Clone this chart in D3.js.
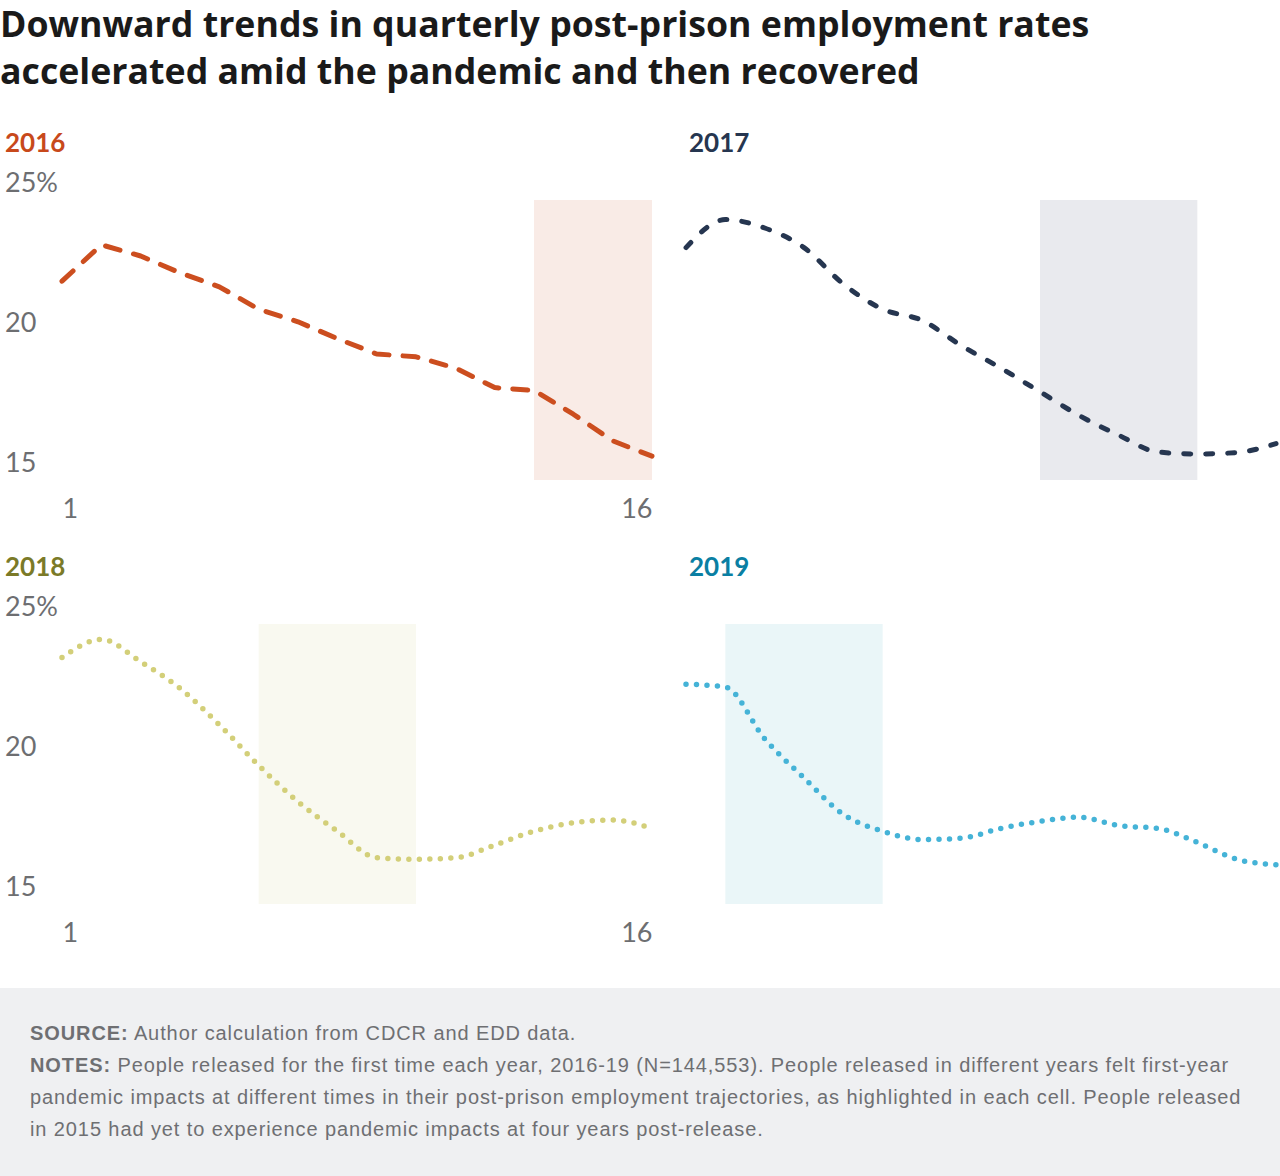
<!DOCTYPE html>
<html lang="en">
<head>
    <meta charset="UTF-8">
    <script src="https://cdn.jsdelivr.net/npm/d3@7"></script>
    <title>Post-prison employment rates</title>
    <style>
        body {
            margin: 0;
            background: white;
        }
        .title {
            font-family: "Open Sans", sans-serif;
            font-weight: 700;
            font-size: 35.7px;
            fill: #1a1a1a;
        }
        .year {
            font-family: Lato, sans-serif;
            font-weight: 700;
            font-size: 26px;
        }
        .axis text {
            font-family: Lato, sans-serif;
            font-size: 27px;
            fill: #6d6e71;
        }
        .foot {
            font-family: "Liberation Sans", Arial, sans-serif;
            font-size: 20px;
            letter-spacing: 0.9px;
            fill: #6e6f72;
        }
    </style>
</head>
<body>
    <div id="chart"></div>

    <script>
        // quarters after release
        const quarters = [1, 2, 3, 4, 5, 6, 7, 8, 9, 10, 11, 12, 13, 14, 15, 16];

        const years = ["2016", "2017", "2018", "2019"];

        // employment rate (%) by quarter
        const rate2016 = [22.1, 23.4, 23.0, 22.4, 21.9, 21.1, 20.65, 20.05, 19.5, 19.4, 19.0, 18.3, 18.2, 17.35, 16.4, 15.85];
        const rate2017 = [23.3, 24.3, 24.0, 23.3, 22.0, 21.1, 20.7, 19.8, 19.0, 18.15, 17.3, 16.6, 16.0, 15.93, 15.98, 16.3];
        const rate2018 = [23.8, 24.45, 23.65, 22.7, 21.4, 19.95, 18.65, 17.6, 16.65, 16.6, 16.65, 17.1, 17.6, 17.9, 18.0, 17.7];
        const rate2019 = [22.85, 22.75, 20.9, 19.5, 18.2, 17.6, 17.3, 17.35, 17.7, 17.95, 18.1, 17.8, 17.7, 17.2, 16.6, 16.4];

        // first-year pandemic window (quarter from / to) for each cohort
        const pandemicFrom = [13, 10, 6, 2];
        const pandemicTo = [16, 14, 10, 6];

        const yTicks = [15, 20, 25];
        const xTicks = [1, 16];

        const series = [rate2016, rate2017, rate2018, rate2019];

        // look
        const titleColors = ["#c8491b", "#263650", "#7b7a28", "#0a7fa3"];
        const lineColors = ["#cc4e1f", "#263650", "#d3cf79", "#45b3d7"];
        const shadeColors = ["#f9ebe6", "#e9eaee", "#f9f9f0", "#eaf6f8"];
        const dashes = ["15,14", "7,15", "0,10.5", "0,10.5"];
        const widths = [5, 5, 5.5, 5.5];

        const width = 1280, height = 1176;

        const svg = d3.select("#chart").append("svg")
            .attr("width", width)
            .attr("height", height);

        // title
        const title = svg.append("text").attr("class", "title");
        title.append("tspan").attr("x", 0).attr("y", 37)
            .text("Downward trends in quarterly post-prison employment rates");
        title.append("tspan").attr("x", 0).attr("y", 84)
            .text("accelerated amid the pandemic and then recovered");

        const plotW = 590, plotH = 280;
        const colLeft = [62, 686];
        const rowTop = [200, 624];

        const x = d3.scaleLinear().domain([1, 16]).range([0, plotW]);
        const y = d3.scaleLinear().domain([15, 25]).range([plotH, 0]);

        years.forEach((yr, i) => {
            const col = i % 2, row = Math.floor(i / 2);
            const g = svg.append("g")
                .attr("transform", `translate(${colLeft[col]},${rowTop[row]})`);

            // shaded pandemic window
            g.append("rect")
                .attr("x", x(pandemicFrom[i]))
                .attr("y", y(25))
                .attr("width", x(pandemicTo[i]) - x(pandemicFrom[i]))
                .attr("height", y(15) - y(25))
                .attr("fill", shadeColors[i]);

            // year label
            g.append("text")
                .attr("class", "year")
                .attr("x", col === 0 ? -57 : 3)
                .attr("y", -48)
                .attr("fill", titleColors[i])
                .text(yr);

            const line = d3.line()
                .x((d, j) => x(quarters[j]))
                .y(d => y(d))
                .curve(i === 0 ? d3.curveLinear : d3.curveMonotoneX);

            g.append("path")
                .datum(series[i])
                .attr("d", line)
                .attr("fill", "none")
                .attr("stroke", lineColors[i])
                .attr("stroke-width", widths[i])
                .attr("stroke-linecap", "round")
                .attr("stroke-linejoin", "round")
                .attr("stroke-dasharray", dashes[i]);

            if (col === 0) {
                const yAxis = g.append("g")
                    .attr("class", "axis")
                    .attr("transform", "translate(-57,0)")
                    .call(d3.axisLeft(y).tickValues(yTicks).tickSize(0)
                        .tickFormat(d => d === 25 ? d + "%" : d));
                yAxis.select(".domain").remove();
                yAxis.selectAll("text")
                    .attr("x", 0)
                    .attr("dy", -9)
                    .attr("text-anchor", "start");

                const xAxis = g.append("g")
                    .attr("class", "axis")
                    .attr("transform", `translate(0,${plotH})`)
                    .call(d3.axisBottom(x).tickValues(xTicks).tickSize(0));
                xAxis.select(".domain").remove();
                xAxis.selectAll("text")
                    .attr("y", 38)
                    .attr("dy", 0)
                    .attr("text-anchor", (d, j) => j === 0 ? "start" : "end");
            }
        });

        // footer
        svg.append("rect")
            .attr("x", 0).attr("y", 988)
            .attr("width", width).attr("height", height - 988)
            .attr("fill", "#eff0f2");

        const footLines = [
            ["SOURCE:", " Author calculation from CDCR and EDD data."],
            ["NOTES:", " People released for the first time each year, 2016-19 (N=144,553). People released in different years felt first-year"],
            ["", "pandemic impacts at different times in their post-prison employment trajectories, as highlighted in each cell. People released"],
            ["", "in 2015 had yet to experience pandemic impacts at four years post-release."]
        ];

        footLines.forEach((l, i) => {
            const t = svg.append("text")
                .attr("class", "foot")
                .attr("x", 30)
                .attr("y", 1040 + i * 32);
            if (l[0]) t.append("tspan").attr("font-weight", 700).text(l[0]);
            t.append("tspan").text(l[1]);
        });
    </script>
</body>
</html>
